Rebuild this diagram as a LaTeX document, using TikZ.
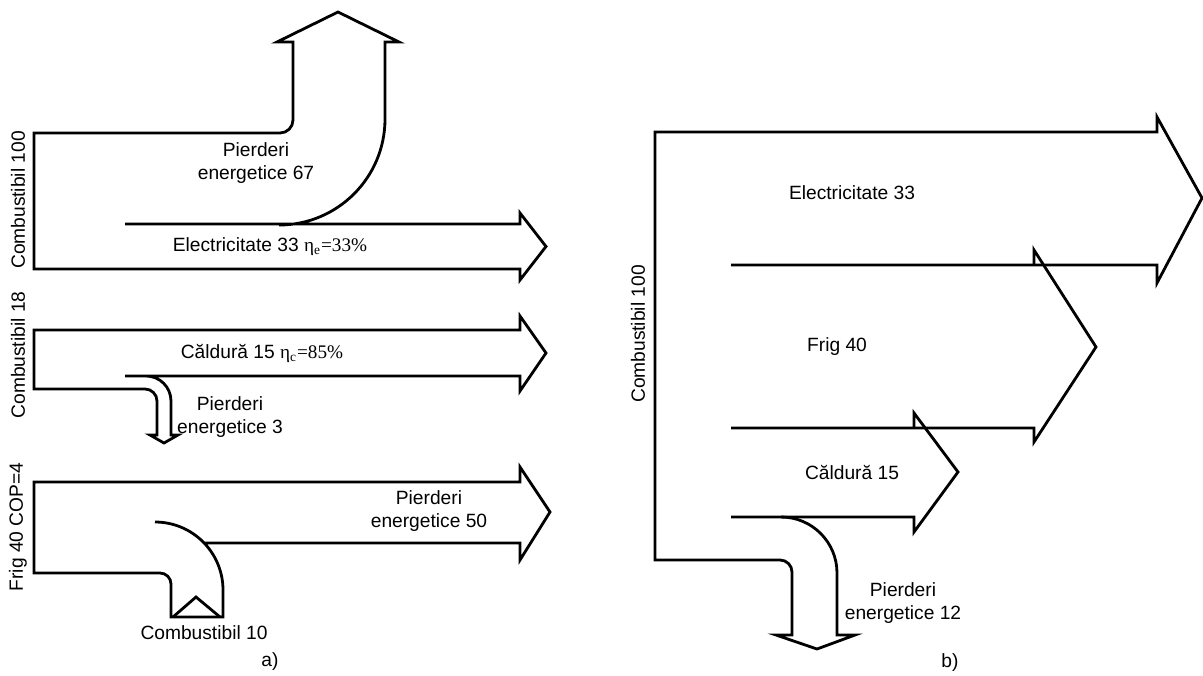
\documentclass[tikz,border=0pt]{standalone}
\usepackage{fontspec}
\setmainfont{Liberation Sans}
\newfontfamily\timesrm{Liberation Serif}

\begin{document}
\begin{tikzpicture}[x=0.5pt, y=-0.5pt, line width=1.4pt, every node/.style={font=\fontsize{9.6}{11.5}\selectfont, inner sep=0pt, align=center}]
	\useasboundingbox (0,0) rectangle (1203,675);
	\coordinate (A) at (34,133);
	\coordinate (B) at (34,269);
	\coordinate (C) at (34,330);
	\coordinate (D) at (34,389);
	\coordinate (E) at (34,482);
	\coordinate (F) at (34,573);
	\coordinate (G) at (655,132);
	\coordinate (H) at (655,560);
	\draw (125,224) -- (520,224) -- (520,213) -- (546,246.5) -- (520,280) -- (520,269) -- (B) -- (A) -- (280,133) arc [start angle=-90, end angle=0, radius=6.5pt] -- (293,42) -- (277,42) -- (338,12) -- (399,42) -- (385,42) -- (385,119) arc [start angle=0, end angle=-90, radius=53pt];
	\draw (125,376) -- (520,376) -- (520,391) -- (546,353) -- (520,316) -- (520,330) -- (C) -- (D) -- (145,389) arc [start angle=90, end angle=0, radius=6pt] -- (157,435) -- (150,435) -- (164,443) -- (178,435) -- (171,435) -- (171,401) arc [start angle=0, end angle=90, radius=12.5pt];
	\draw (204,543) -- (520,543) -- (520,560) -- (550,512) -- (520,467) -- (520,482) -- (E) -- (F) -- (160,573) arc [start angle=90, end angle=0, radius=5.5pt] -- (171,617) -- (223,617) -- (223,590) arc [start angle=0, end angle=90, radius=34pt];
	\draw (173,617) -- (196,597) -- (220,617);
	\draw (731,265) -- (1157,265) -- (1157,283) -- (1202,198) -- (1157,117) -- (1157,132) -- (G) -- (H) -- (780,560) arc [start angle=90, end angle=0, radius=6pt] -- (792,635) -- (776,635) -- (817,649) -- (855,635) -- (837,635) -- (837,573) arc [start angle=0, end angle=90, radius=28pt] -- (731,517);
	\draw (1034,265) -- (1034,250) -- (1096,347) -- (1034,442) -- (1034,428) -- (731,428);
	\draw (914,428) -- (914,413) -- (958,472) -- (914,532) -- (914,517) -- (781,517);
	\path (18,200) node [rotate=90] (ca) {Combustibil 100};
	\path (256,163) node (pa) {Pierderi\\energetice 67};
	\path (270,247) node (ea) {Electricitate 33 {\timesrm η\textsubscript{e}=33\%}};
	\path (18,355) node [rotate=90] (cb) {Combustibil 18};
	\path (262,353) node (qa) {Căldură 15 {\timesrm η\textsubscript{c}=85\%}};
	\path (230,417) node (pb) {Pierderi\\energetice 3};
	\path (18,527) node [rotate=90] (fa) {Frig 40 COP=4};
	\path (429,511) node (pc) {Pierderi\\energetice 50};
	\path (204,633) node (cc) {Combustibil 10};
	\path (270,662) node (la) {a)};
	\path (638,334) node [rotate=90] (cd) {Combustibil 100};
	\path (852,193) node (eb) {Electricitate 33};
	\path (837,347) node (fb) {Frig 40};
	\path (852,473) node (qb) {Căldură 15};
	\path (903,603) node (pd) {Pierderi\\energetice 12};
	\path (950,663) node (lb) {b)};
\end{tikzpicture}
\end{document}
